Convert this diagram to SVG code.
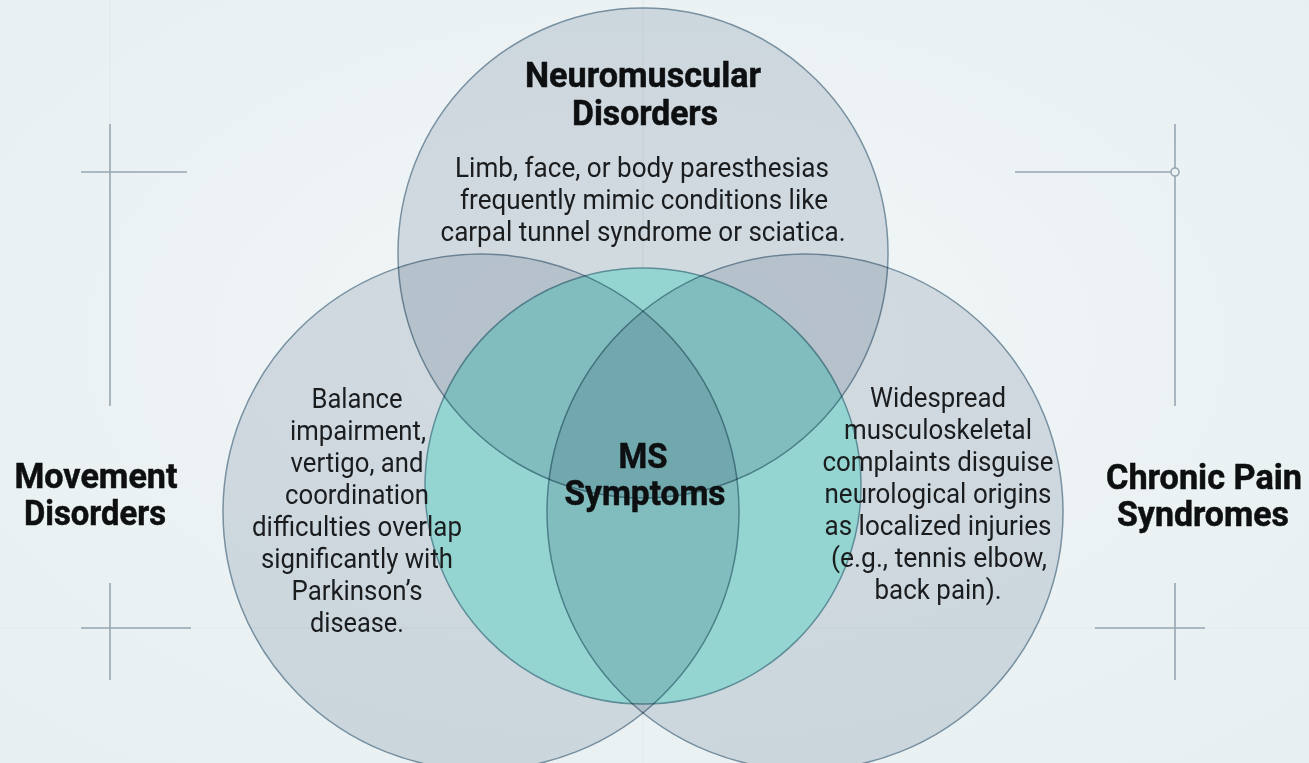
<svg xmlns="http://www.w3.org/2000/svg" width="1309" height="763" viewBox="0 0 1309 763">
  <defs>
    <radialGradient id="bg" cx="50%" cy="45%" r="75%">
      <stop offset="0" stop-color="#f2f6f7"/>
      <stop offset="1" stop-color="#e7eff1"/>
    </radialGradient>
    <style>
      .guide{stroke:#97a6b2;stroke-width:1.6;fill:none}
      .faint{stroke:#e2e9ec;stroke-width:1.2;fill:none}
      .gray{fill:#dee3e8;stroke:#8198a8;stroke-width:1.5;mix-blend-mode:multiply}
      .teal{fill:#aaf0e6;stroke:#6b9fa8;stroke-width:1.5}
      .title{font-family:Roboto,"Liberation Sans",sans-serif;font-weight:700;font-size:35px;fill:#0d0f10;stroke:#0d0f10;stroke-width:0.5;text-anchor:middle}
      .body{font-family:Roboto,"Liberation Sans",sans-serif;font-weight:400;font-size:28px;fill:#1a1c1e;text-anchor:middle}
    </style>
  </defs>
  <rect x="0" y="0" width="1309" height="763" fill="url(#bg)"/>

  <g id="guides">
    <line class="faint" x1="643" y1="0" x2="643" y2="763"/>
    <line class="faint" x1="0" y1="628" x2="1309" y2="628"/>
    <line class="faint" x1="110" y1="0" x2="110" y2="124"/>
    <line class="guide" x1="110" y1="124" x2="110" y2="406"/>
    <line class="guide" x1="81" y1="172" x2="187" y2="172"/>
    <line class="guide" x1="110" y1="583" x2="110" y2="680"/>
    <line class="guide" x1="81" y1="628" x2="191" y2="628"/>
    <line class="guide" x1="1175" y1="124" x2="1175" y2="168"/>
    <line class="guide" x1="1175" y1="176" x2="1175" y2="406"/>
    <line class="guide" x1="1015" y1="172" x2="1171" y2="172"/>
    <circle class="guide" cx="1175" cy="172" r="4"/>
    <line class="guide" x1="1175" y1="583" x2="1175" y2="680"/>
    <line class="guide" x1="1095" y1="628" x2="1205" y2="628"/>
  </g>

  <g id="connectors"></g>

  <g id="ms-symptoms">
    <circle class="teal" cx="643" cy="486" r="218"/>
  </g>

  <g id="neuromuscular">
    <circle class="gray" cx="643" cy="253" r="245"/>
    <text class="title" x="643" y="87" textLength="236" lengthAdjust="spacingAndGlyphs">Neuromuscular</text>
    <text class="title" x="645" y="125" textLength="146" lengthAdjust="spacingAndGlyphs">Disorders</text>
    <text class="body" x="642" y="177" textLength="374" lengthAdjust="spacingAndGlyphs">Limb, face, or body paresthesias</text>
    <text class="body" x="644" y="209" textLength="368" lengthAdjust="spacingAndGlyphs">frequently mimic conditions like</text>
    <text class="body" x="643" y="241" textLength="405" lengthAdjust="spacingAndGlyphs">carpal tunnel syndrome or sciatica.</text>
  </g>

  <g id="movement">
    <circle class="gray" cx="481" cy="512" r="258"/>
    <text class="title" x="96" y="488" textLength="163" lengthAdjust="spacingAndGlyphs">Movement</text>
    <text class="title" x="95" y="525" textLength="142" lengthAdjust="spacingAndGlyphs">Disorders</text>
    <text class="body" x="357" y="408" textLength="91" lengthAdjust="spacingAndGlyphs">Balance</text>
    <text class="body" x="358" y="440" textLength="136" lengthAdjust="spacingAndGlyphs">impairment,</text>
    <text class="body" x="357" y="472" textLength="133" lengthAdjust="spacingAndGlyphs">vertigo, and</text>
    <text class="body" x="357" y="504" textLength="144" lengthAdjust="spacingAndGlyphs">coordination</text>
    <text class="body" x="357" y="536" textLength="210" lengthAdjust="spacingAndGlyphs">difficulties overlap</text>
    <text class="body" x="357" y="568" textLength="192" lengthAdjust="spacingAndGlyphs">significantly with</text>
    <text class="body" x="357" y="600" textLength="131" lengthAdjust="spacingAndGlyphs">Parkinson’s</text>
    <text class="body" x="357" y="632" textLength="94" lengthAdjust="spacingAndGlyphs">disease.</text>
  </g>

  <g id="chronic-pain">
    <circle class="gray" cx="805" cy="512" r="258"/>
    <text class="title" x="1204" y="489" textLength="196" lengthAdjust="spacingAndGlyphs">Chronic Pain</text>
    <text class="title" x="1203" y="526" textLength="172" lengthAdjust="spacingAndGlyphs">Syndromes</text>
    <text class="body" x="938" y="407" textLength="136" lengthAdjust="spacingAndGlyphs">Widespread</text>
    <text class="body" x="938" y="439" textLength="188" lengthAdjust="spacingAndGlyphs">musculoskeletal</text>
    <text class="body" x="938" y="471" textLength="231" lengthAdjust="spacingAndGlyphs">complaints disguise</text>
    <text class="body" x="938" y="503" textLength="227" lengthAdjust="spacingAndGlyphs">neurological origins</text>
    <text class="body" x="938" y="535" textLength="227" lengthAdjust="spacingAndGlyphs">as localized injuries</text>
    <text class="body" x="939" y="567" textLength="216" lengthAdjust="spacingAndGlyphs">(e.g., tennis elbow,</text>
    <text class="body" x="938" y="599" textLength="127" lengthAdjust="spacingAndGlyphs">back pain).</text>
  </g>

  <g id="ms-label">
    <text class="title" x="643" y="468" textLength="49" lengthAdjust="spacingAndGlyphs">MS</text>
    <text class="title" x="645" y="505" textLength="161" lengthAdjust="spacingAndGlyphs">Symptoms</text>
  </g>
</svg>
